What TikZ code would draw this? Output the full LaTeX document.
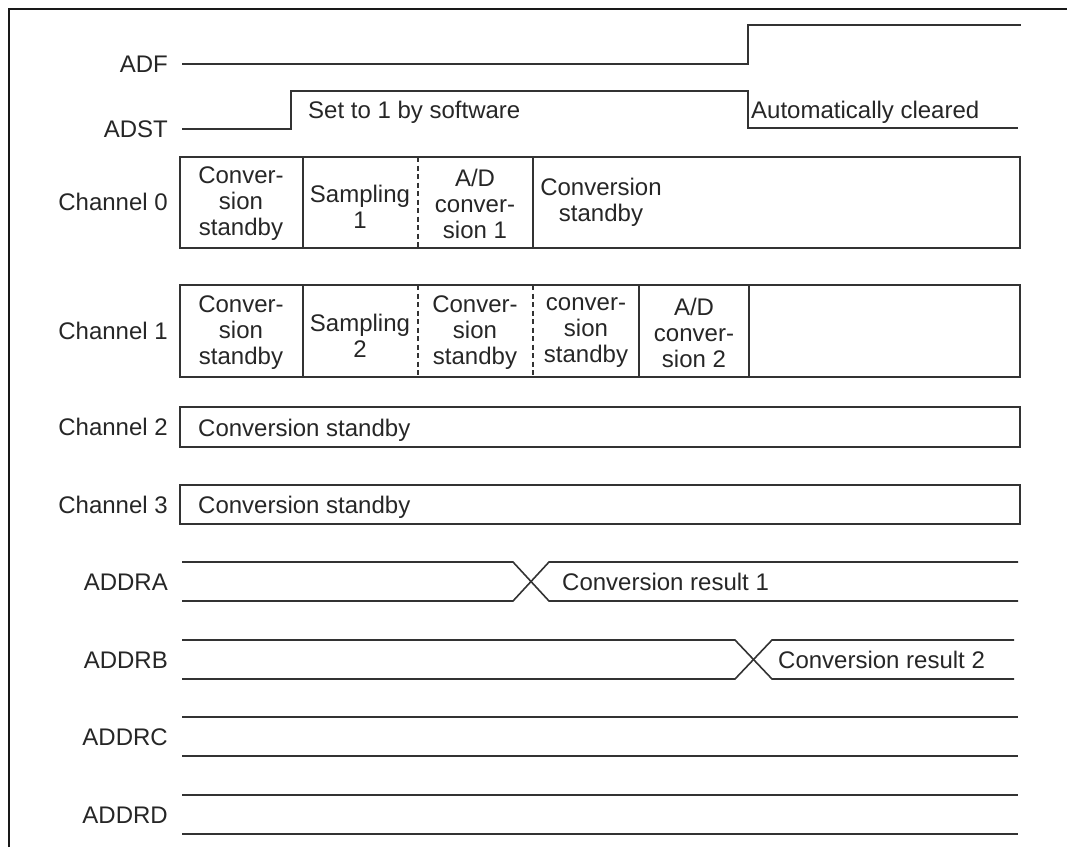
\documentclass[tikz,border=0pt]{standalone}
\usepackage{fontspec}
\setmainfont{Liberation Sans}
\usepackage{tikz}
\tikzset{
  frm/.style={line width=2.5pt,black!90},
  wave/.style={line width=1.6pt,black!80},
  chbox/.style={line width=1.8pt,black!80},
  cdiv/.style={line width=1.4pt,black!80},
  ddiv/.style={line width=1.4pt,black!80,dash pattern=on 5pt off 3.5pt},
  sig/.style={anchor=east,font=\fontsize{24}{26}\selectfont,text=black!85,
    inner sep=0pt,text height=17pt,text depth=0pt},
  txt/.style={anchor=west,font=\fontsize{24}{26}\selectfont,text=black!85,
    inner sep=0pt,text height=17pt,text depth=0pt},
  cell/.style={font=\fontsize{24}{26}\selectfont,text=black!85,align=center,inner sep=0pt},
}
\begin{document}
\begin{tikzpicture}[x=1pt,y=-1pt]
  \useasboundingbox (0,0) rectangle (1067,847);
  % frame
  \draw[frm] (9,847) -- (9,9) -- (1067,9);
  % signal names
  \foreach \nm/\lab/\yy in {adf/ADF/64, adst/ADST/129, ch0/Channel 0/202,
      ch1/Channel 1/331, ch2/Channel 2/427, ch3/Channel 3/505,
      dra/ADDRA/582, drb/ADDRB/660, drc/ADDRC/737, drd/ADDRD/815}
    \node[sig] (\nm) at (168,\yy) {\lab};
  % ADF
  \draw[wave] (182,64) -- (748,64) -- (748,25) -- (1021,25);
  % ADST
  \draw[wave] (182,129) -- (291,129) -- (291,91) -- (748,91) -- (748,128) -- (1018,128);
  \node[txt] (setsw) at (308,110) {Set to 1 by software};
  \node[txt] (autoclr) at (751,110) {Automatically cleared};
  % channel 0
  \draw[chbox] (180,157) rectangle (1020,248);
  \foreach \xx/\sty in {303/cdiv, 418/ddiv, 533/cdiv}
    \draw[\sty] (\xx,157) -- (\xx,248);
  \node[cell] (c0a) at (241,204) {Conver-\\sion\\standby};
  \node[cell] (c0b) at (360,207) {Sampling\\1};
  \node[cell] (c0c) at (475,204) {A/D\\conver-\\sion 1};
  \node[cell] (c0d) at (601,202) {Conversion\\standby};
  % channel 1
  \draw[chbox] (180,285) rectangle (1020,377);
  \foreach \xx/\sty in {303/cdiv, 418/ddiv, 533/ddiv, 639/cdiv, 749/cdiv}
    \draw[\sty] (\xx,285) -- (\xx,377);
  \node[cell] (c1a) at (241,333) {Conver-\\sion\\standby};
  \node[cell] (c1b) at (360,336) {Sampling\\2};
  \node[cell] (c1c) at (475,333) {Conver-\\sion\\standby};
  \node[cell] (c1d) at (586,333) {conver-\\sion\\standby};
  \node[cell] (c1e) at (694,333) {A/D\\conver-\\sion 2};
  % channel 2 and 3
  \draw[chbox] (180,407) rectangle (1020,447);
  \node[txt] (c2a) at (198,428) {Conversion standby};
  \draw[chbox] (180,485) rectangle (1020,524);
  \node[txt] (c3a) at (198,505) {Conversion standby};
  % ADDRA
  \draw[wave] (182,562) -- (513,562) -- (549,601) -- (1018,601);
  \draw[wave] (182,601) -- (513,601) -- (549,562) -- (1018,562);
  \node[txt] (res1) at (562,582) {Conversion result 1};
  % ADDRB
  \draw[wave] (182,640) -- (735,640) -- (772,679) -- (1014,679);
  \draw[wave] (182,679) -- (735,679) -- (772,640) -- (1014,640);
  \node[txt] (res2) at (778,660) {Conversion result 2};
  % ADDRC, ADDRD
  \foreach \yy in {717,756,795,834}
    \draw[wave] (182,\yy) -- (1018,\yy);
\end{tikzpicture}
\end{document}
